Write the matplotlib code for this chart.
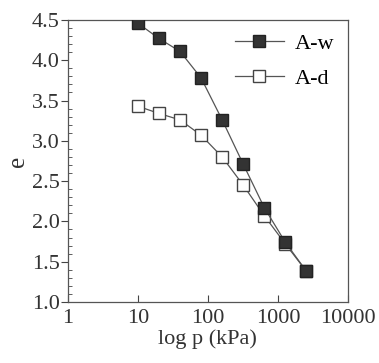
import numpy as np
import matplotlib
matplotlib.use("Agg")
import matplotlib.pyplot as plt
from matplotlib.ticker import MultipleLocator, LogLocator, NullFormatter

plt.rcParams['font.family'] = ['Liberation Serif', 'DejaVu Serif']

# loading pressure (kPa) and void ratio
p = [10, 20, 40, 80, 160, 320, 640, 1280, 2560]
e_w = [4.46, 4.27, 4.11, 3.78, 3.26, 2.71, 2.17, 1.74, 1.38]
e_d = [3.43, 3.34, 3.26, 3.07, 2.80, 2.45, 2.07, 1.72, 1.38]
xticks = [1, 10, 100, 1000, 10000]

fig = plt.figure(figsize=(3.79, 3.63), dpi=100)
ax = fig.add_axes([0.179, 0.168, 0.739, 0.777])

ax.plot(p, e_d, '-s', color='#555555', lw=0.9, mfc='white', mec='#444444',
        ms=8.5, mew=1.0, label='A-d', zorder=2)
ax.plot(p, e_w, '-s', color='#555555', lw=0.9, mfc='#333333', mec='#222222',
        ms=9, mew=1.0, label='A-w', zorder=3)

ax.set_xscale('log')
ax.set_xlim(1, 10000)
ax.set_ylim(1.0, 4.5)
ax.yaxis.set_major_locator(MultipleLocator(0.5))
ax.yaxis.set_minor_locator(MultipleLocator(0.1))
ax.xaxis.set_minor_locator(LogLocator(base=10, subs=np.arange(2, 10)))
ax.xaxis.set_minor_formatter(NullFormatter())
ax.set_xticks(xticks)
ax.set_xticklabels([str(v) for v in xticks])
ax.set_yticklabels([f'{v:.1f}' for v in ax.get_yticks()])

ax.tick_params(axis='x', which='major', direction='in', length=5, labelsize=16,
               color='#444444', labelcolor='#333333', pad=5)
ax.tick_params(axis='x', which='minor', direction='in', length=3, color='#444444')
ax.tick_params(axis='y', which='major', direction='out', length=5, labelsize=16,
               color='#444444', labelcolor='#333333', pad=1)
ax.tick_params(axis='y', which='minor', direction='in', length=3, color='#444444')
for s in ax.spines.values():
    s.set_color('#555555')
    s.set_linewidth(0.9)

ax.set_xlabel('log p (kPa)', fontsize=16, color='#333333', labelpad=1)
ax.set_ylabel('e', fontsize=18, color='#333333', labelpad=2)

h, l = ax.get_legend_handles_labels()
ax.legend(h[::-1], l[::-1], loc='upper right', frameon=False, fontsize=16,
          handlelength=2.2, borderaxespad=0.2, labelspacing=0.65, handletextpad=0.5)

fig.savefig('out.png', dpi=100)
